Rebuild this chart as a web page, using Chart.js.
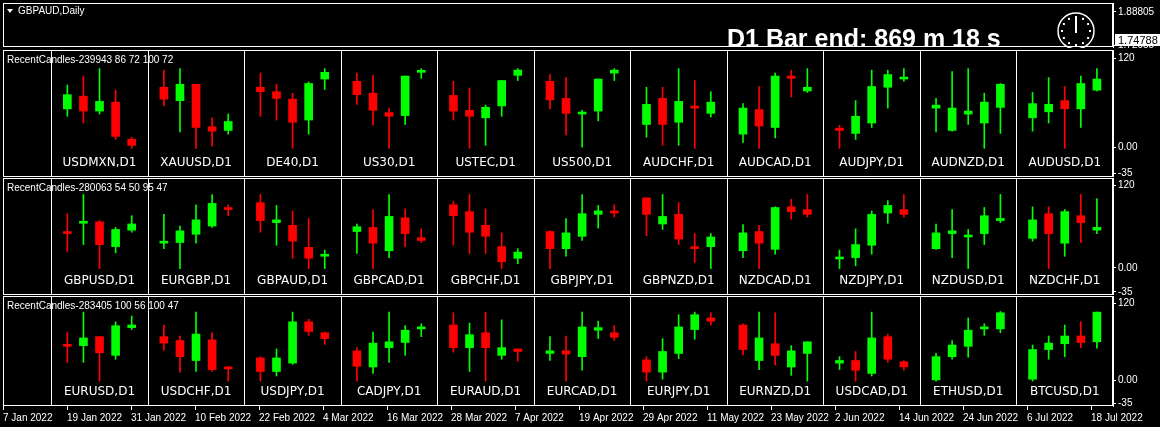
<!DOCTYPE html>
<html>
<head>
<meta charset="utf-8">
<script src="https://cdn.jsdelivr.net/npm/chart.js@4/dist/chart.umd.min.js"></script>
<style>
  html, body { margin: 0; padding: 0; background: #000; }
  body { width: 1160px; height: 427px; position: relative; overflow: hidden; }
  canvas { position: absolute; left: 0; }
</style>
</head>
<body>
<canvas id="top" width="1160" height="48" style="top:0"></canvas>
<canvas id="p1" width="1160" height="127" style="top:50px"></canvas>
<canvas id="p2" width="1160" height="117" style="top:178px"></canvas>
<canvas id="p3" width="1160" height="131" style="top:296px"></canvas>
<script>
// candles are [open, high, low, close] on the indicator's 0..100 scale
let symbols1 = ['USDMXN,D1', 'XAUUSD,D1', 'DE40,D1', 'US30,D1', 'USTEC,D1', 'US500,D1', 'AUDCHF,D1', 'AUDCAD,D1', 'AUDJPY,D1', 'AUDNZD,D1', 'AUDUSD,D1'];
let candles1 = [
    [[52,84,42,71], [69,96,33,49], [49,106,45,62], [61,77,11,15], [11,14,-1,3]],
    [[81,104,56,65], [63,106,21,85], [85,85,-1,27], [28,40,2,22], [23,45,18,35]],
    [[81,100,42,75], [75,85,37,66], [65,73,-1,34], [37,88,18,86], [92,106,78,101]],
    [[89,100,58,71], [73,97,30,50], [47,53,-1,42], [43,96,31,96], [101,106,93,103]],
    [[70,89,37,49], [50,80,-1,42], [40,57,3,54], [56,90,42,90], [97,106,90,104]],
    [[89,98,52,64], [66,94,17,46], [45,50,0,46], [49,92,36,92], [100,106,90,104]],
    [[31,81,14,58], [66,81,3,31], [34,106,3,62], [54,90,-1,53], [46,75,41,61]],
    [[18,59,7,53], [51,82,-1,29], [27,100,13,96], [96,104,68,93], [76,106,74,81]],
    [[26,30,-1,23], [19,63,11,42], [33,104,27,82], [81,104,53,98], [92,106,89,93]],
    [[53,66,21,57], [23,102,22,53], [45,106,31,49], [33,73,-1,61], [54,86,19,85]],
    [[40,74,22,59], [48,94,33,58], [63,82,-1,52], [52,96,27,86], [77,106,76,92]]
];
let symbols2 = ['GBPUSD,D1', 'EURGBP,D1', 'GBPAUD,D1', 'GBPCAD,D1', 'GBPCHF,D1', 'GBPJPY,D1', 'GBPNZD,D1', 'NZDCAD,D1', 'NZDJPY,D1', 'NZDUSD,D1', 'NZDCHF,D1'];
let candles2 = [
    [[51,79,24,50], [65,107,34,67], [67,69,-1,34], [31,59,22,56], [55,76,52,64]],
    [[36,78,28,39], [37,61,-1,54], [49,92,36,70], [61,107,59,94], [86,92,76,85]],
    [[95,107,52,69], [66,91,33,70], [62,83,14,39], [30,72,-1,14], [17,26,-1,19]],
    [[53,64,21,60], [59,85,-1,36], [25,107,15,75], [73,86,31,50], [44,57,37,40]],
    [[92,97,33,76], [82,107,21,52], [62,86,21,46], [31,51,-1,9], [14,28,6,23]],
    [[53,54,-1,28], [28,72,17,51], [46,107,40,79], [78,91,58,83], [82,92,74,80]],
    [[102,102,47,78], [64,107,56,75], [78,95,34,42], [31,50,8,28], [31,50,-1,45]],
    [[25,63,15,51], [53,62,-1,36], [27,89,20,88], [89,100,71,82], [85,107,74,78]],
    [[13,26,-1,14], [15,57,3,34], [33,83,20,78], [80,98,65,91], [85,107,74,78]],
    [[28,64,27,51], [50,85,15,54], [45,56,-1,48], [50,88,34,76], [69,107,66,72]],
    [[43,89,39,70], [79,89,-1,50], [36,85,17,82], [76,107,37,66], [55,101,50,59]]
];
let symbols3 = ['EURUSD,D1', 'USDCHF,D1', 'USDJPY,D1', 'CADJPY,D1', 'EURAUD,D1', 'EURCAD,D1', 'EURJPY,D1', 'EURNZD,D1', 'USDCAD,D1', 'ETHUSD,D1', 'BTCUSD,D1'];
let candles3 = [
    [[55,75,28,53], [54,106,28,66], [68,68,-1,43], [39,91,33,85], [82,100,79,86]],
    [[68,86,47,58], [62,69,13,37], [31,106,14,72], [63,74,14,17], [19,22,-1,18]],
    [[35,37,-1,14], [14,49,7,35], [27,106,25,91], [91,95,70,76], [74,75,56,65]],
    [[46,51,-1,22], [21,75,11,58], [51,106,28,60], [59,85,39,78], [80,88,68,83]],
    [[86,105,44,51], [51,89,14,71], [74,106,-1,51], [39,94,33,51], [49,49,30,45]],
    [[42,68,31,46], [46,69,-1,41], [37,106,16,83], [78,92,65,82], [74,85,62,67]],
    [[32,37,-1,13], [13,65,2,45], [42,102,34,83], [79,106,64,102], [97,105,86,92]],
    [[86,88,40,48], [31,106,17,66], [57,105,24,39], [21,54,8,46], [42,60,-1,60]],
    [[27,37,17,31], [31,45,-1,16], [11,106,7,66], [68,72,28,33], [29,31,16,21]],
    [[1,42,-1,37], [37,62,33,55], [53,97,36,78], [80,88,70,81], [80,107,74,105]],
    [[2,55,-1,48], [48,69,33,58], [57,86,37,69], [69,91,51,59], [60,106,50,106]]
];
let titles = ['RecentCandles-239943 86 72 100 72', 'RecentCandles-280063 54 50 95 47', 'RecentCandles-283405 100 56 100 47'];
let dateLabels = ['7 Jan 2022', '19 Jan 2022', '31 Jan 2022', '10 Feb 2022', '22 Feb 2022', '4 Mar 2022', '16 Mar 2022', '28 Mar 2022', '7 Apr 2022',
    '19 Apr 2022', '29 Apr 2022', '11 May 2022', '23 May 2022', '2 Jun 2022', '14 Jun 2022', '24 Jun 2022', '6 Jul 2022', '18 Jul 2022'];
let panelTicks = [-35, 0, 120];
let priceTicks = [1.88805, 1.72055];
let lastPrice = 1.74788;
let timerText = 'D1 Bar end: 869 m 18 s';
let chartTitle = 'GBPAUD,Daily';

const GREEN = '#00ff00';
const RED = '#ff0000';
const SMALL = '10px "Liberation Sans", Arial, sans-serif';

Chart.defaults.animation = false;
Chart.defaults.color = '#ffffff';

function noPad(s) {
    s.paddingTop = 0; s.paddingBottom = 0; s.paddingLeft = 0; s.paddingRight = 0;
}

function frame(chart) {
    let a = chart.chartArea, ctx = chart.ctx;
    ctx.save();
    ctx.strokeStyle = '#ffffff';
    ctx.lineWidth = 1;
    ctx.strokeRect(Math.round(a.left) + 0.5, Math.round(a.top) + 0.5, Math.round(a.width) - 1, Math.round(a.height) - 1);
    ctx.restore();
}

const cellsPlugin = {
    id: 'cells',
    beforeDatasetsDraw(chart, args, opts) {
        let ctx = chart.ctx, a = chart.chartArea, xs = chart.scales.x;
        ctx.save();
        ctx.strokeStyle = '#ffffff';
        ctx.lineWidth = 1;
        for (let i = 0; i < opts.symbols.length; i++) {
            let px = Math.round(xs.getPixelForValue(i * 6)) + 0.5;
            ctx.beginPath();
            ctx.moveTo(px, a.top);
            ctx.lineTo(px, a.bottom);
            ctx.stroke();
        }
        frame(chart);
        ctx.fillStyle = '#ffffff';
        ctx.font = '12px "DejaVu Sans", sans-serif';
        ctx.textAlign = 'center';
        ctx.textBaseline = 'middle';
        opts.symbols.forEach((s, i) => {
            ctx.fillText(s, xs.getPixelForValue(i * 6 + 3), a.bottom - 14);
        });
        ctx.textAlign = 'left';
        ctx.font = SMALL;
        ctx.fillText(opts.title, a.left + 4, a.top + 10);
        ctx.restore();
    }
};

function panelChart(id, symbols, candles, title, withDates) {
    let wicks = [], bodies = [], colors = [];
    candles.forEach((cell, i) => {
        cell.forEach((c, k) => {
            let x = i * 6 + k + 1;
            wicks.push({ x: x, y: [c[2], c[1]] });
            bodies.push({ x: x, y: [Math.min(c[0], c[3]), Math.max(c[0], c[3])] });
            colors.push(c[3] >= c[0] ? GREEN : RED);
        });
    });
    let scales = {
        x: { type: 'linear', min: -3, max: 66, offset: false, display: false },
        y: {
            position: 'right', min: -39.5, max: 131,
            afterFit: s => { s.width = 47; noPad(s); },
            afterBuildTicks: s => { s.ticks = panelTicks.map(v => ({ value: v })); },
            ticks: { font: { family: 'Liberation Sans', size: 10 }, padding: 2, callback: v => v === 0 ? '0.00' : v },
            grid: { drawOnChartArea: false, color: '#ffffff', tickLength: 3 },
            border: { color: '#ffffff' }
        }
    };
    if (withDates) {
        scales.x2 = {
            type: 'linear', position: 'bottom', min: 0, max: 1110 / 64, offset: false,
            afterFit: s => { s.height = 21; noPad(s); },
            afterBuildTicks: s => { s.ticks = dateLabels.map((d, i) => ({ value: i })); },
            ticks: { font: { family: 'Liberation Sans', size: 10 }, align: 'start', padding: 2, maxRotation: 0, autoSkip: false,
                callback: v => dateLabels[v] },
            grid: { drawOnChartArea: false, color: '#ffffff', tickLength: 4, offset: false },
            border: { display: false }
        };
    }
    return new Chart(document.getElementById(id), {
        type: 'bar',
        data: {
            datasets: [
                { data: wicks, backgroundColor: colors, barThickness: 1, grouped: false },
                { data: bodies, backgroundColor: colors, barThickness: 8, minBarLength: 2, grouped: false }
            ]
        },
        options: {
            responsive: false,
            layout: { padding: { left: 3, right: 0, top: 0, bottom: 0 } },
            plugins: { legend: { display: false }, tooltip: { enabled: false }, cells: { symbols: symbols, title: title } },
            scales: scales
        },
        plugins: [cellsPlugin]
    });
}

panelChart('p1', symbols1, candles1, titles[0], false);
panelChart('p2', symbols2, candles2, titles[1], false);
panelChart('p3', symbols3, candles3, titles[2], true);

const topPlugin = {
    id: 'topinfo',
    afterDraw(chart) {
        let ctx = chart.ctx, a = chart.chartArea, ys = chart.scales.y;
        frame(chart);
        ctx.save();
        ctx.fillStyle = '#ffffff';
        ctx.beginPath();
        ctx.moveTo(7, 9); ctx.lineTo(13, 9); ctx.lineTo(10, 13); ctx.closePath();
        ctx.fill();
        ctx.font = SMALL;
        ctx.textBaseline = 'middle';
        ctx.fillText(chartTitle, 18, 11);
        ctx.font = 'bold 25px "Liberation Sans", Arial, sans-serif';
        ctx.textBaseline = 'alphabetic';
        ctx.fillText(timerText, 727, 47);
        // clock
        let cx = 1076, cy = 31, r = 18;
        ctx.strokeStyle = '#ffffff';
        ctx.lineWidth = 1.5;
        ctx.beginPath(); ctx.arc(cx, cy, r, 0, Math.PI * 2); ctx.stroke();
        for (let h = 0; h < 12; h++) {
            let t = h * Math.PI / 6;
            ctx.fillRect(cx + Math.sin(t) * (r - 4) - 1, cy - Math.cos(t) * (r - 4) - 1, 2, 2);
        }
        ctx.lineWidth = 2;
        ctx.beginPath(); ctx.moveTo(cx, cy + 2); ctx.lineTo(cx, cy - 13); ctx.stroke();
        // current price box
        let py = ys.getPixelForValue(lastPrice);
        ctx.fillRect(a.right + 2, py - 6, 1160 - a.right - 2, 12);
        ctx.fillStyle = '#000000';
        ctx.font = '11px "Liberation Sans", Arial, sans-serif';
        ctx.textBaseline = 'middle';
        ctx.fillText(lastPrice.toFixed(5), a.right + 5, py + 0.5);
        ctx.restore();
    }
};

new Chart(document.getElementById('top'), {
    type: 'bar',
    data: { datasets: [] },
    options: {
        responsive: false,
        layout: { padding: { left: 3, right: 0, top: 3, bottom: 1 } },
        plugins: { legend: { display: false }, tooltip: { enabled: false } },
        scales: {
            x: { type: 'linear', min: 0, max: 1, display: false },
            y: {
                position: 'right', min: 1.7128, max: 1.9331,
                afterFit: s => { s.width = 47; noPad(s); },
                afterBuildTicks: s => { s.ticks = priceTicks.map(v => ({ value: v })); },
                ticks: { font: { family: 'Liberation Sans', size: 10 }, padding: 2, callback: v => v.toFixed(5) },
                grid: { drawOnChartArea: false, color: '#ffffff', tickLength: 3 },
                border: { color: '#ffffff' }
            }
        }
    },
    plugins: [topPlugin]
});
</script>
</body>
</html>
